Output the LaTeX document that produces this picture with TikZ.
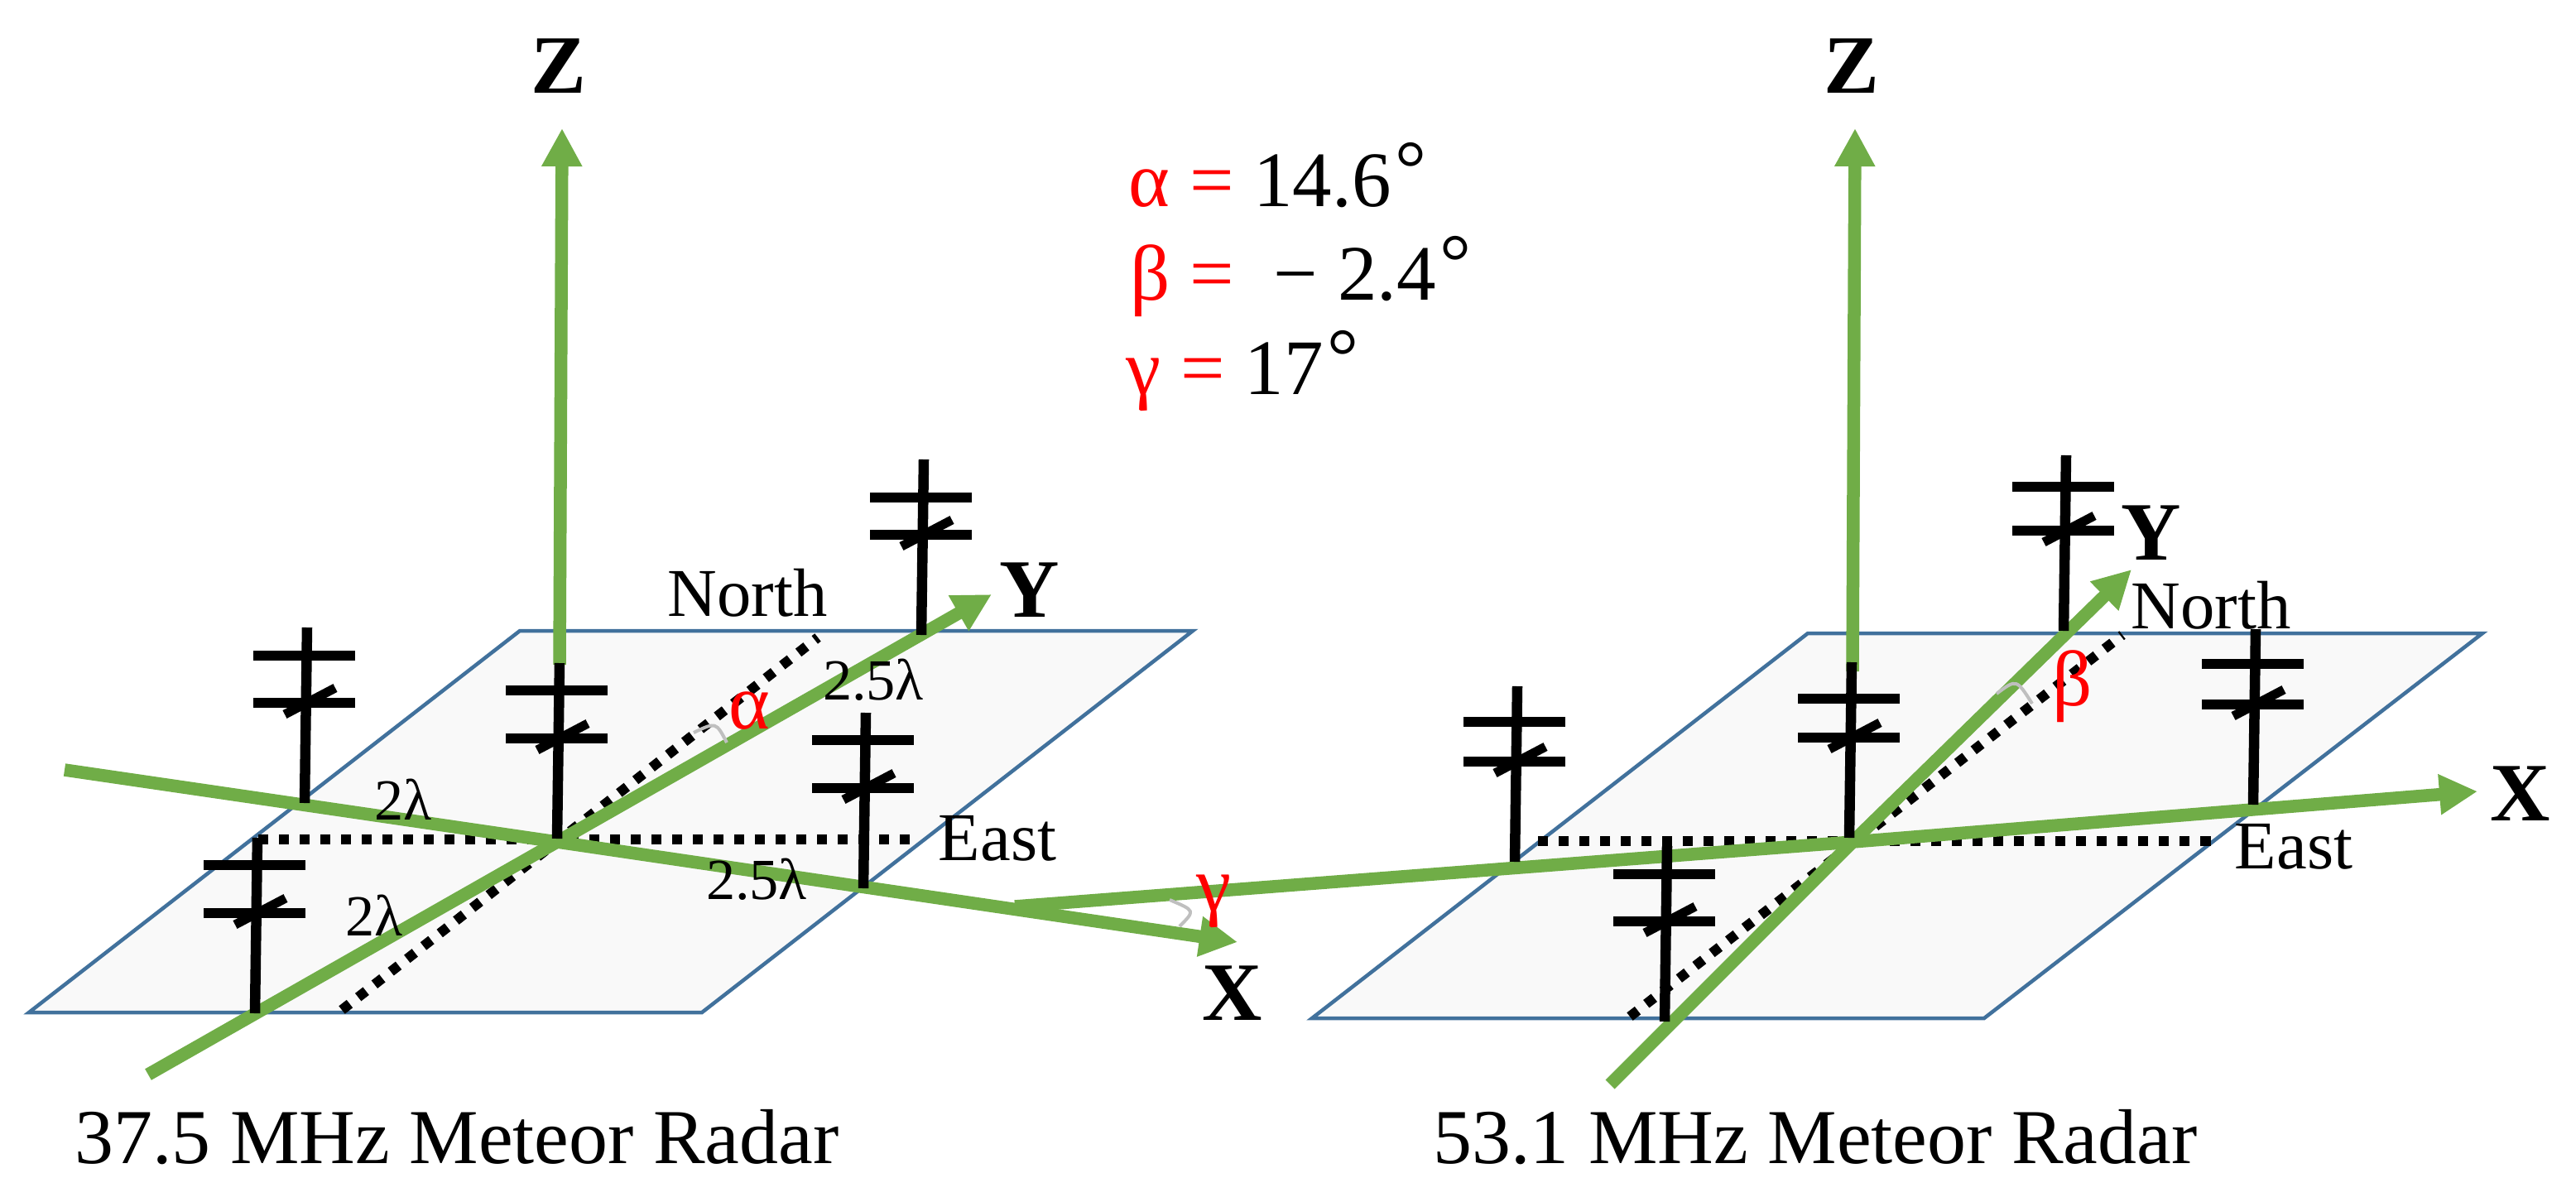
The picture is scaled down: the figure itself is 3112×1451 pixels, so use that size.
\documentclass[tikz,border=0pt]{standalone}
\usepackage{fontspec}
\setmainfont{Liberation Serif}
\usetikzlibrary{arrows.meta}
\definecolor{axisgreen}{HTML}{70AD47}
\definecolor{planeblue}{HTML}{41719C}
\definecolor{planefill}{HTML}{F9F9F9}
\definecolor{markgray}{HTML}{BFBFBF}
\tikzset{
    >={Triangle[length=0.46cm,width=0.46cm]}
}

\begin{document}
\begin{tikzpicture}[
  x=0.01cm, y=-0.01cm,
  ground/.style={draw=planeblue, fill=planefill, line width=0.045cm, line join=miter},
  axisline/.style={draw=axisgreen, line width=0.155cm},
  axisarrow/.style={axisline, ->},
  dotline/.style={draw=black, line width=0.12cm, dash pattern=on 0.12cm off 0.13cm},
  mast/.style={draw=black, line width=0.125cm},
  anglemark/.style={draw=markgray, line width=0.04cm},
  axislabel/.style={font=\fontsize{28.5}{30}\selectfont\bfseries, inner sep=0pt},
  compass/.style={font=\fontsize{23.5}{26}\selectfont, anchor=base, inner sep=0pt},
  spacing/.style={font=\fontsize{20}{23}\selectfont, anchor=base, inner sep=0pt},
  anglelabel/.style={font=\fontsize{27}{29}\selectfont, text=red, anchor=base, inner sep=0pt},
  eqline/.style={font=\fontsize{27}{29}\selectfont, anchor=base west, inner sep=0pt},
  radarname/.style={font=\fontsize{26.7}{30}\selectfont, anchor=base, inner sep=0pt}
]
  \useasboundingbox (0,0) rectangle (3112,1451);

  % Ground planes
  \draw[ground] (35,1223) -- (848,1223) -- (1441,762) -- (628,762) -- cycle;
  \draw[ground] (1585,1230) -- (2397,1230) -- (2999,765) -- (2184,765) -- cycle;

  % Axis ends
  \coordinate (oleft) at (673,1017);
  \coordinate (oright) at (2238,1017);
  \coordinate (zleftbase) at (676,803);
  \coordinate (zlefttip) at (679,155);
  \coordinate (zrightbase) at (2238,811);
  \coordinate (zrighttip) at (2241,155);
  \coordinate (xleftstart) at (78,930);
  \coordinate (xlefttip) at (1495,1138);
  \coordinate (yleftstart) at (179,1298);
  \coordinate (ylefttip) at (1198,718);
  \coordinate (xrightstart) at (1226,1095);
  \coordinate (xrighttip) at (2993,956);
  \coordinate (yrightstart) at (1945,1310);
  \coordinate (yrighttip) at (2575,688);
  \coordinate (eastleftw) at (312,1014);
  \coordinate (eastlefte) at (1112,1014);
  \coordinate (northlefts) at (413,1220);
  \coordinate (northleftn) at (988,770);
  \coordinate (eastrightw) at (1858,1016);
  \coordinate (eastrighte) at (2674,1016);
  \coordinate (northrights) at (1969,1228);
  \coordinate (northrightn) at (2564,767);

  % Dotted East and North lines
  \draw[dotline] (eastleftw) -- (eastlefte);
  \draw[dotline] (northlefts) -- (northleftn);
  \draw[dotline] (eastrightw) -- (eastrighte);
  \draw[dotline] (northrights) -- (northrightn);

  % Green axes
  \draw[axisarrow] (zleftbase) -- (zlefttip);
  \draw[axisarrow] (zrightbase) -- (zrighttip);
  \draw[axisarrow] (xrightstart) -- (oright) -- (xrighttip);
  \draw[axisarrow] (xleftstart) -- (oleft) -- (xlefttip);
  \draw[axisarrow] (yleftstart) -- (oleft) -- (ylefttip);
  \draw[axisarrow] (yrightstart) -- (oright) -- (yrighttip);

  % Antennas: foot x / foot y / height of upper bar
  \foreach \ax/\ay/\abar in {368/970/178, 673/1013/179, 308/1224/179, 1113/767/166, 1043/1073/179,
                             1830/1041/169, 2234/1012/168, 2493/762/174, 2722/972/170, 2011/1234/178} {
    \draw[mast] (\ax,\ay) -- (\ax+3,\ay-212);
    \draw[mast] (\ax-62,\ay-\abar) -- (\ax+61,\ay-\abar);
    \draw[mast] (\ax-62,\ay-121) -- (\ax+61,\ay-121);
    \draw[mast, line width=0.11cm] (\ax-24,\ay-107) -- (\ax+37,\ay-139);
  }

  % Angle marks
  \draw[anglemark] (838,885) .. controls (865,872) .. (878,897);
  \draw[anglemark] (1413,1087) .. controls (1444,1100) .. (1425,1119);
  \draw[anglemark] (2412,838) .. controls (2436,820) .. (2455,850);

  % Axis labels
  \node[axislabel] (zleft) at (675,80) {Z};
  \node[axislabel] (zright) at (2237,80) {Z};
  \node[axislabel] (yleft) at (1244,713) {Y};
  \node[axislabel] (xleft) at (1489,1200) {X};
  \node[axislabel] (yright) at (2599,644) {Y};
  \node[axislabel] (xright) at (3045,959) {X};

  % North and East
  \node[compass] (northleft) at (903,744) {North};
  \node[compass] (eastleft) at (1205,1039) {East};
  \node[compass] (northright) at (2671,759) {North};
  \node[compass] (eastright) at (2771,1049) {East};

  % Spacings
  \node[spacing] (spacea) at (487,990) {2λ};
  \node[spacing] (spaceb) at (452,1130) {2λ};
  \node[spacing] (spacec) at (914,1086) {2.5λ};
  \node[spacing] (spaced) at (1055,845) {2.5λ};

  % Angles on the axes
  \node[anglelabel] (alphamark) at (905,880) {α};
  \node[anglelabel] (betamark) at (2504,852) {β};
  \node[anglelabel] (gammamark) at (1466,1100) {γ};

  % Values
  \node[eqline] (alphaval) at (1363,249) {{\color{red}α = }14.6\hspace{0.05em}\raisebox{0.14em}{°}};
  \node[eqline] (betaval) at (1365,362) {{\color{red}β = }\hspace{0.25em}− 2.4\hspace{0.05em}\raisebox{0.14em}{°}};
  \node[eqline] (gammaval) at (1360,476) {{\color{red}γ = }17\hspace{0.05em}\raisebox{0.14em}{°}};

  % Captions
  \node[radarname] (radarleft) at (552,1405) {37.5 MHz Meteor Radar};
  \node[radarname] (radarright) at (2193,1405) {53.1 MHz Meteor Radar};
\end{tikzpicture}
\end{document}
